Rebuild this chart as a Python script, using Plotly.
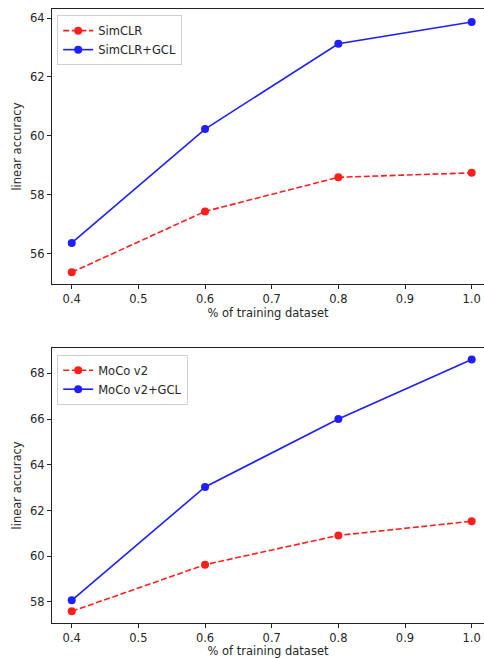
import plotly.graph_objects as go

x_frac = [0.4, 0.6, 0.8, 1.0]
simclr = [55.36, 57.43, 58.59, 58.74]
simclr_gcl = [56.36, 60.23, 63.13, 63.87]
moco = [57.59, 59.63, 60.91, 61.53]
moco_gcl = [58.07, 63.03, 66.0, 68.6]

x_ticks = [0.4, 0.5, 0.6, 0.7, 0.8, 0.9, 1.0]
x_ticklabels = ["0.4", "0.5", "0.6", "0.7", "0.8", "0.9", "1.0"]

FONT = dict(family="DejaVu Sans", size=11.5, color="#262626")
RED = "#ff0000"
BLUE = "#0000ff"

fig = go.Figure()

def add(x, y, name, color, dash, xa, ya, legend):
    fig.add_trace(go.Scatter(
        x=x, y=y, name=name, mode="lines+markers",
        line=dict(color=color, width=1.6, dash=dash),
        marker=dict(color=color, size=8),
        opacity=0.88,
        xaxis=xa, yaxis=ya, legend=legend,
    ))

add(x_frac, simclr, "SimCLR", RED, "6px,2.6px", "x", "y", "legend")
add(x_frac, simclr_gcl, "SimCLR+GCL", BLUE, "solid", "x", "y", "legend")
add(x_frac, moco, "MoCo v2", RED, "6px,2.6px", "x2", "y2", "legend2")
add(x_frac, moco_gcl, "MoCo v2+GCL", BLUE, "solid", "x2", "y2", "legend2")

xcommon = dict(
    range=[0.3704, 1.0185], tickvals=x_ticks, ticktext=x_ticklabels,
    showline=True, mirror=True, linecolor="#222", linewidth=1,
    ticks="outside", ticklen=4, tickcolor="#222", showgrid=False, zeroline=False,
    tickfont=FONT, automargin=False,
    title=dict(text="% of training dataset", font=FONT, standoff=2),
)
ycommon = dict(
    dtick=2, showline=True, mirror=False, linecolor="#222", linewidth=1,
    ticks="outside", ticklen=4, tickcolor="#222", showgrid=False, zeroline=False,
    tickfont=FONT, automargin=False,
    title=dict(text="linear accuracy", font=FONT, standoff=6),
)

legend_style = dict(
    bgcolor="rgba(255,255,255,0.9)", bordercolor="#d0d0d0", borderwidth=1,
    font=FONT, xanchor="left", yanchor="top", tracegroupgap=0,
    itemwidth=30,
)

fig.update_layout(
    width=484, height=658,
    margin=dict(l=52, r=0, t=9, b=35, autoexpand=False),
    paper_bgcolor="white", plot_bgcolor="white",
    showlegend=True,
    xaxis=dict(domain=[0, 1], anchor="y", **xcommon),
    yaxis=dict(domain=[0.552, 1.0], anchor="x", range=[54.96, 64.31], **ycommon),
    xaxis2=dict(domain=[0, 1], anchor="y2", **xcommon),
    yaxis2=dict(domain=[0.0, 0.448], anchor="x2", range=[57.08, 69.11], **ycommon),
    legend=dict(x=0.012, y=0.99, **legend_style),
    legend2=dict(x=0.012, y=0.437, **legend_style),
)

fig.write_html(
    "out.html",
    config={"displayModeBar": False},
    post_script="document.body.style.margin='0';document.body.style.overflow='hidden';",
)
